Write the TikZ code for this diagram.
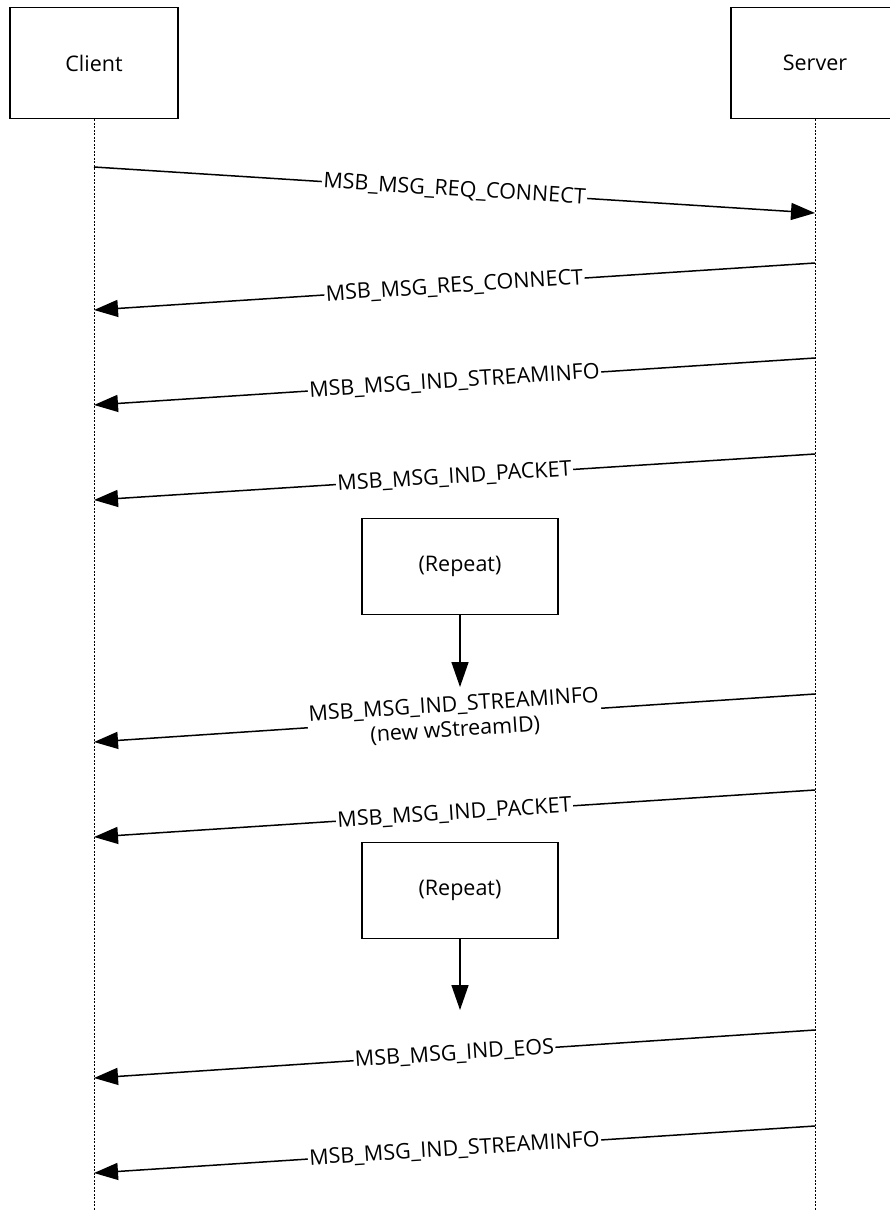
\documentclass[tikz,border=0pt]{standalone}
\usepackage{fontspec}
\setmainfont{Open Sans}
\usetikzlibrary{arrows.meta}
\begin{document}
\begin{tikzpicture}[x=1pt,y=-1pt,
  actor/.style={draw, line width=1.3pt, minimum width=168pt, minimum height=111pt, inner sep=0pt, font=\fontsize{21.5}{25}\selectfont},
  repbox/.style={draw, line width=1.3pt, minimum width=196pt, minimum height=96pt, inner sep=0pt, font=\fontsize{21.5}{25}\selectfont},
  life/.style={line width=0.9pt, dash pattern=on 2pt off 1.5pt},
  msg/.style={line width=1.5pt, -{Triangle[length=24pt,width=17pt]}},
  down/.style={line width=1.5pt, -{Triangle[length=25pt,width=17pt]}},
  lbl/.style={sloped, fill=white, inner sep=1.5pt, align=center, font=\fontsize{21.5}{25}\selectfont}]
\useasboundingbox (0,0) rectangle (890,1211);
\fill[white] (0,0) rectangle (890,1211);
\begin{scope}
\clip (0,0) rectangle (890,1211);
\node[actor] (client) at (94,63) {Client};
\node[actor] (server) at (815,63) {Server};
\coordinate (cend) at (94,1211);
\coordinate (send) at (815,1211);
\draw[life] (client.south) -- (cend);
\draw[life] (server.south) -- (send);

\coordinate (c1) at (94,167);  \coordinate (s1) at (815,213);
\coordinate (s2) at (815,263); \coordinate (c2) at (94,310);
\coordinate (s3) at (815,358); \coordinate (c3) at (94,405);
\coordinate (s4) at (815,454); \coordinate (c4) at (94,500);
\coordinate (s5) at (815,694); \coordinate (c5) at (94,742);
\coordinate (s6) at (815,790); \coordinate (c6) at (94,837);
\coordinate (s7) at (815,1030); \coordinate (c7) at (94,1078);
\coordinate (s8) at (815,1126); \coordinate (c8) at (94,1173);

\draw[msg] (c1) -- node[lbl]{MSB\_MSG\_REQ\_CONNECT} (s1);
\draw[msg] (s2) -- node[lbl]{MSB\_MSG\_RES\_CONNECT} (c2);
\draw[msg] (s3) -- node[lbl]{MSB\_MSG\_IND\_STREAMINFO} (c3);
\draw[msg] (s4) -- node[lbl]{MSB\_MSG\_IND\_PACKET} (c4);

\node[repbox] (rep1) at (460,566.5) {(Repeat)};
\coordinate (r1end) at (460,687);
\draw[down] (rep1.south) -- (r1end);

\draw[msg] (s5) -- node[lbl]{MSB\_MSG\_IND\_STREAMINFO\\(new wStreamID)} (c5);
\draw[msg] (s6) -- node[lbl]{MSB\_MSG\_IND\_PACKET} (c6);

\node[repbox] (rep2) at (460,890.5) {(Repeat)};
\coordinate (r2end) at (460,1010);
\draw[down] (rep2.south) -- (r2end);

\draw[msg] (s7) -- node[lbl]{MSB\_MSG\_IND\_EOS} (c7);
\draw[msg] (s8) -- node[lbl]{MSB\_MSG\_IND\_STREAMINFO} (c8);
\end{scope}
\end{tikzpicture}
\end{document}
